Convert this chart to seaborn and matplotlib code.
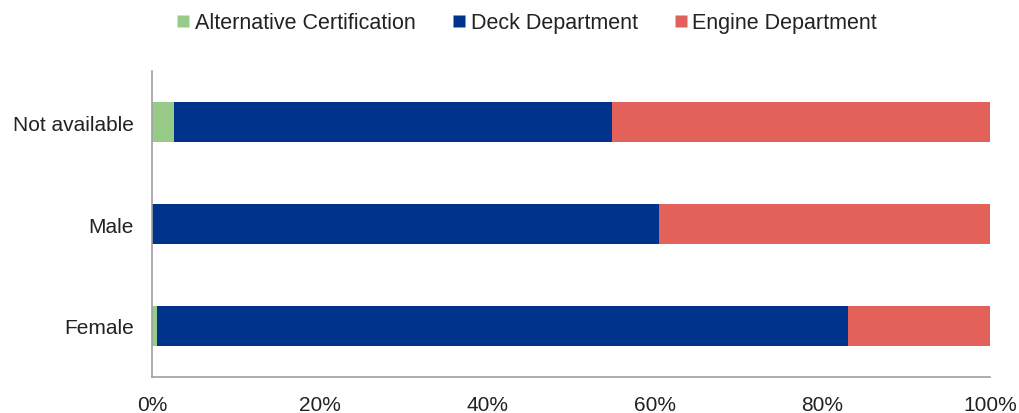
import seaborn as sns
import matplotlib.pyplot as plt
import pandas as pd
from matplotlib.lines import Line2D
from matplotlib.ticker import PercentFormatter

categories = ["Not available", "Male", "Female"]
alt_cert = [2.7, 0.0, 0.6]
deck = [52.2, 60.5, 82.5]
engine = [45.1, 39.5, 16.9]

series = ["Alternative Certification", "Deck Department", "Engine Department"]
colors = ["#99CB88", "#00338C", "#E2615A"]

df = pd.DataFrame({"cat": categories, "alt": alt_cert, "deck": deck, "engine": engine})
df["c1"] = df["alt"]
df["c2"] = df["alt"] + df["deck"]
df["c3"] = df["c2"] + df["engine"]

sns.set_style("white")
plt.rcParams["font.family"] = ["Liberation Sans", "DejaVu Sans"]

fig, ax = plt.subplots(figsize=(10.19, 4.14), dpi=100)
fig.subplots_adjust(left=0.149, right=0.9715, bottom=0.087, top=0.826)

# stacked bars by drawing cumulative totals back to front
for col, c in zip(["c3", "c2", "c1"], colors[::-1]):
    sns.barplot(data=df, x=col, y="cat", order=categories, color=c,
                width=0.4, orient="h", ax=ax, saturation=1, edgecolor="none")

ax.set_xlim(0, 100)
ax.set_ylim(2.5, -0.5)
ax.xaxis.set_major_formatter(PercentFormatter(decimals=0))
ax.set_xticks([0, 20, 40, 60, 80, 100])
ax.set_xlabel("")
ax.set_ylabel("")
ax.tick_params(axis="x", length=0, pad=13, labelsize=15, colors="#222222")
ax.tick_params(axis="y", length=0, pad=13, labelsize=15, colors="#222222")

for s in ["top", "right"]:
    ax.spines[s].set_visible(False)
for s in ["left", "bottom"]:
    ax.spines[s].set_color("#A0A0A0")
    ax.spines[s].set_linewidth(1.2)

handles = [Line2D([], [], marker="s", linestyle="none", markersize=9,
                  markerfacecolor=c, markeredgecolor="none") for c in colors]
fig.legend(handles, series, loc="center", bbox_to_anchor=(0.516, 0.943), ncol=3,
           frameon=False, fontsize=15.5, handletextpad=0.15, columnspacing=1.6,
           handlelength=0.8, labelcolor="#222222")

plt.savefig("out.png")
